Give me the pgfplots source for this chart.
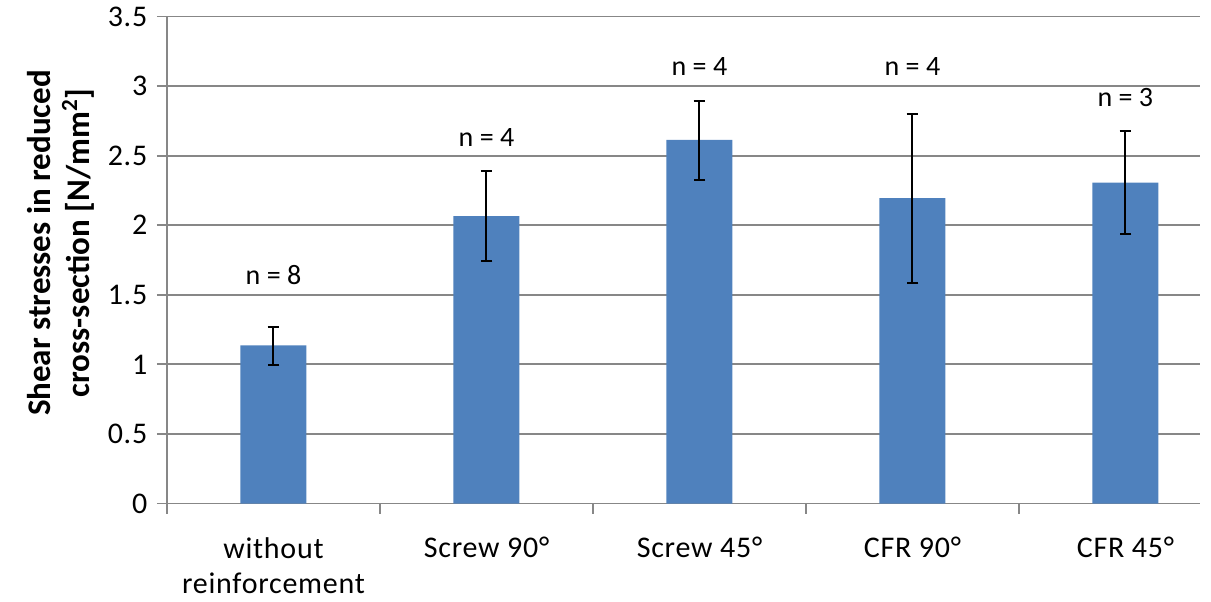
\documentclass[border=0pt]{standalone}
\usepackage{fontspec}
\setmainfont{Carlito}
\newfontfamily\tickfont[LetterSpace=2.5]{Carlito}
\usepackage{pgfplots}
\pgfplotsset{compat=1.18}
\definecolor{barblue}{HTML}{4F81BD}
\definecolor{gridgray}{HTML}{878787}
\begin{document}
\fontsize{14pt}{17pt}\selectfont
\begin{tikzpicture}
\useasboundingbox (-83.5pt,-48.75pt) rectangle (522pt,251.75pt);
\begin{axis}[
  at={(0,0)}, anchor=south west,
  scale only axis, width=516.5pt, height=243.5pt,
  xmin=-0.5, xmax=4.35, ymin=0, ymax=3.5,
  ytick={0,0.5,1,1.5,2,2.5,3,3.5},
  /pgf/number format/assume math mode=true,
  yticklabel style={/pgf/number format/fixed, /pgf/number format/precision=1, font=\tickfont\fontsize{15pt}{17pt}\selectfont},
  ymajorgrids, grid style={gridgray, line width=0.9pt},
  axis x line*=bottom, axis y line*=left,
  axis line style={gridgray, line width=0.9pt, -},
  xtick={0,1,2,3,4},
  xticklabels={{without\\reinforcement}, {Screw 90°}, {Screw 45°}, {CFR 90°}, {CFR 45°}},
  xticklabel style={align=center, font=\tickfont\fontsize{15pt}{17.5pt}\selectfont, yshift=-7pt},
  major x tick style={draw=none},
  minor xtick={-0.5,0.5,1.5,2.5,3.5},
  minor x tick style={gridgray, line width=0.9pt},
  major y tick style={gridgray, line width=0.9pt},
  tick align=outside, major tick length=5pt, minor tick length=5pt,
  ylabel={Shear stresses in reduced\\cross-section [N/mm\textsuperscript{2}]},
  ylabel style={align=center, font=\bfseries\fontsize{16.5pt}{19.5pt}\selectfont, at={([xshift=-53pt]axis description cs:0,0.535)}, anchor=center},
  clip=false,
]
\addplot[ybar, bar width=33pt, fill=barblue, draw=none,
  error bars/.cd, y dir=both, y explicit,
  error bar style={black, line width=1pt},
  error mark options={rotate=90, mark size=2.9pt, black, line width=1pt}]
  table[x=x, y=y, y error plus=ep, y error minus=em] {
x y ep em
0 1.137 0.128 0.138
1 2.066 0.324 0.325
2 2.613 0.281 0.288
3 2.194 0.608 0.608
4 2.306 0.374 0.366
};
\node at (axis cs:0,1.64) {n = 8};
\node at (axis cs:1,2.63) {n = 4};
\node at (axis cs:2,3.14) {n = 4};
\node at (axis cs:3,3.14) {n = 4};
\node at (axis cs:4,2.92) {n = 3};
\end{axis}
\end{tikzpicture}
\end{document}
